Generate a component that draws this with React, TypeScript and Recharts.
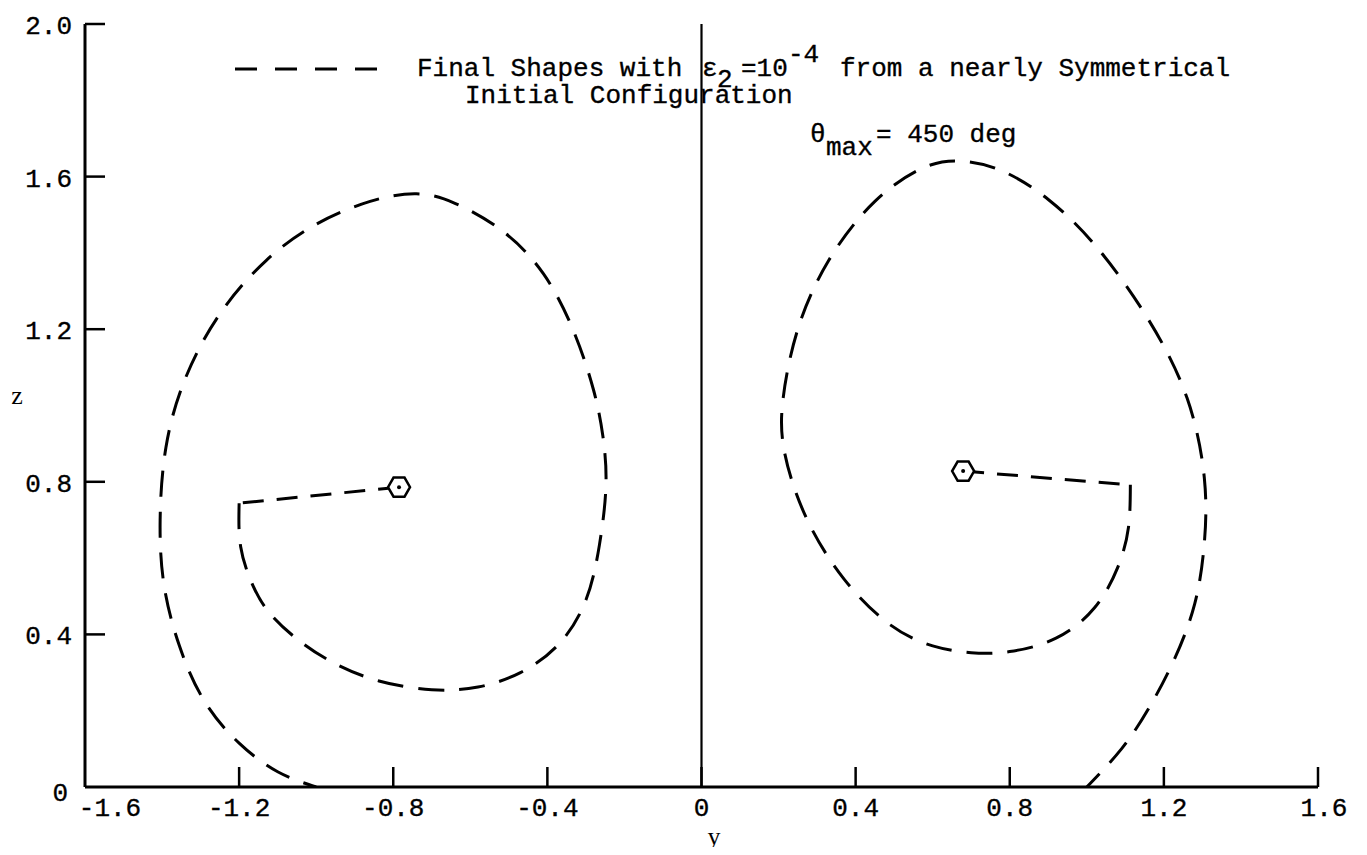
import React from 'react';
import { ComposedChart, Line, Scatter, XAxis, YAxis, ReferenceLine } from 'recharts';

// tick values
const xTicks = [-1.6, -1.2, -0.8, -0.4, 0, 0.4, 0.8, 1.2, 1.6];
const yTicks = [0, 0.4, 0.8, 1.2, 1.6, 2.0];
const xTickLabels = ['-1.6', '-1.2', '-0.8', '-0.4', '0', '0.4', '0.8', '1.2', '1.6'];
const yTickLabels = ['0', '0.4', '0.8', '1.2', '1.6', '2.0'];

// left shape: radial segment from hub to corner, then spiral
const leftRadial = [
  { y: -0.785, z: 0.786 },
  { y: -1.2, z: 0.744 },
];
const leftSpiral = [
  { y: -1.2, z: 0.744 },
  { y: -1.196, z: 0.63 },
  { y: -1.165, z: 0.53 },
  { y: -1.12, z: 0.455 },
  { y: -1.046, z: 0.385 },
  { y: -0.954, z: 0.325 },
  { y: -0.837, z: 0.278 },
  { y: -0.7, z: 0.255 },
  { y: -0.58, z: 0.262 },
  { y: -0.47, z: 0.3 },
  { y: -0.37, z: 0.375 },
  { y: -0.3, z: 0.49 },
  { y: -0.265, z: 0.634 },
  { y: -0.248, z: 0.79 },
  { y: -0.256, z: 0.92 },
  { y: -0.28, z: 1.04 },
  { y: -0.33, z: 1.19 },
  { y: -0.41, z: 1.345 },
  { y: -0.52, z: 1.46 },
  { y: -0.64, z: 1.53 },
  { y: -0.74, z: 1.555 },
  { y: -0.86, z: 1.535 },
  { y: -1.0, z: 1.475 },
  { y: -1.13, z: 1.38 },
  { y: -1.25, z: 1.24 },
  { y: -1.34, z: 1.07 },
  { y: -1.39, z: 0.89 },
  { y: -1.405, z: 0.7 },
  { y: -1.395, z: 0.53 },
  { y: -1.355, z: 0.37 },
  { y: -1.29, z: 0.225 },
  { y: -1.2, z: 0.115 },
  { y: -1.1, z: 0.04 },
  { y: -1.0, z: 0.0 },
];

// right shape
const rightRadial = [
  { y: 0.679, z: 0.828 },
  { y: 1.113, z: 0.792 },
];
const rightSpiral = [
  { y: 1.113, z: 0.792 },
  { y: 1.108, z: 0.68 },
  { y: 1.08, z: 0.575 },
  { y: 1.02, z: 0.47 },
  { y: 0.92, z: 0.39 },
  { y: 0.8, z: 0.355 },
  { y: 0.7, z: 0.352 },
  { y: 0.6, z: 0.37 },
  { y: 0.49, z: 0.425 },
  { y: 0.37, z: 0.545 },
  { y: 0.27, z: 0.71 },
  { y: 0.215, z: 0.88 },
  { y: 0.212, z: 1.02 },
  { y: 0.25, z: 1.2 },
  { y: 0.33, z: 1.38 },
  { y: 0.45, z: 1.535 },
  { y: 0.58, z: 1.625 },
  { y: 0.68, z: 1.64 },
  { y: 0.78, z: 1.615 },
  { y: 0.9, z: 1.54 },
  { y: 1.03, z: 1.41 },
  { y: 1.16, z: 1.225 },
  { y: 1.26, z: 1.02 },
  { y: 1.305, z: 0.81 },
  { y: 1.305, z: 0.64 },
  { y: 1.28, z: 0.48 },
  { y: 1.225, z: 0.33 },
  { y: 1.16, z: 0.205 },
  { y: 1.09, z: 0.1 },
  { y: 1.0, z: 0.0 },
];

// hubs
const hubs = [
  { y: -0.785, z: 0.786 },
  { y: 0.679, z: 0.828 },
];

const MONO = '"Liberation Mono", "DejaVu Sans Mono", monospace';
const SERIF = '"Liberation Serif", "DejaVu Serif", serif';
const DASH = '26 15';
const SW = 3;
const TXT = { fontFamily: MONO, fontSize: 26, fill: '#000', stroke: '#000', strokeWidth: 0.35 };

const XTick = (props: any) => {
  const { x, y, payload } = props;
  const v = payload.value;
  const i = xTicks.indexOf(v);
  const label = i >= 0 ? xTickLabels[i] : String(v);
  const off = v === -1.6 ? 25 : v === 1.6 ? 6 : 0;
  return (
    <g>
      {v !== -1.6 && <line x1={x} y1={y} x2={x} y2={y - 20} stroke="#000" strokeWidth={2.5} />}
      <text x={x + off} y={y + 29} textAnchor="middle" {...TXT}>
        {label}
      </text>
    </g>
  );
};

const YTick = (props: any) => {
  const { x, y, payload } = props;
  const v = payload.value;
  const i = yTicks.indexOf(v);
  const label = i >= 0 ? yTickLabels[i] : String(v);
  if (v === 0) {
    return (
      <text x={x - 17} y={y + 14} textAnchor="end" {...TXT}>
        {label}
      </text>
    );
  }
  return (
    <g>
      <line x1={x} y1={y} x2={x + 20} y2={y} stroke="#000" strokeWidth={2.5} />
      <text x={x - 13} y={y + 10} textAnchor="end" {...TXT}>
        {label}
      </text>
    </g>
  );
};

const Hub = (props: any) => {
  const { cx, cy } = props;
  const r = 11;
  const pts = Array.from({ length: 6 }, (_, k) => {
    const a = (Math.PI / 3) * k;
    return `${cx + r * Math.cos(a)},${cy + r * Math.sin(a)}`;
  }).join(' ');
  return (
    <g>
      <polygon points={pts} fill="#fff" stroke="#000" strokeWidth={2.5} />
      <circle cx={cx} cy={cy} r={2} fill="#000" />
    </g>
  );
};

export default function App() {
  return (
    <div style={{ position: 'relative', width: 1351, height: 839 }}>
      <ComposedChart
        width={1351}
        height={839}
        margin={{ top: 16, right: 41, bottom: 0, left: 0 }}
      >
        <XAxis
          type="number"
          dataKey="y"
          domain={[-1.6, 1.6]}
          ticks={xTicks}
          allowDataOverflow
          height={60}
          tickSize={0}
          tickMargin={0}
          tickLine={false}
          axisLine={{ stroke: '#000', strokeWidth: 3 }}
          tick={<XTick />}
          interval={0}
        />
        <YAxis
          type="number"
          dataKey="z"
          domain={[0, 2]}
          ticks={yTicks}
          allowDataOverflow
          width={77}
          tickSize={0}
          tickMargin={0}
          tickLine={false}
          axisLine={{ stroke: '#000', strokeWidth: 3 }}
          tick={<YTick />}
          interval={0}
        />
        <ReferenceLine x={0} stroke="#000" strokeWidth={2.2} />
        <Line data={leftRadial} dataKey="z" type="linear" stroke="#000" strokeWidth={SW} strokeDasharray="21 13" dot={false} isAnimationActive={false} />
        <Line data={leftSpiral} dataKey="z" type="natural" stroke="#000" strokeWidth={SW} strokeDasharray={DASH} dot={false} isAnimationActive={false} />
        <Line data={rightRadial} dataKey="z" type="linear" stroke="#000" strokeWidth={SW} strokeDasharray="21 13" dot={false} isAnimationActive={false} />
        <Line data={rightSpiral} dataKey="z" type="natural" stroke="#000" strokeWidth={SW} strokeDasharray={DASH} dot={false} isAnimationActive={false} />
        <Scatter data={hubs} dataKey="z" shape={<Hub />} isAnimationActive={false} />
      </ComposedChart>
      <svg
        width={1351}
        height={847}
        style={{ position: 'absolute', left: 0, top: 0, overflow: 'visible', pointerEvents: 'none' }}
      >
        <g transform="translate(-8,-8)" fill="#000">
          <line x1={235} y1={69} x2={380} y2={69} stroke="#000" strokeWidth={3} strokeDasharray="22 18" />
          <text {...TXT} y={76}>
            <tspan x={417}>Final Shapes with</tspan>
            <tspan x={702}>ε</tspan>
            <tspan x={717} dy={11}>2</tspan>
            <tspan x={741} dy={-11}>=10</tspan>
            <tspan x={788} dy={-14}>-4</tspan>
            <tspan x={840} dy={14}>from a nearly Symmetrical</tspan>
          </text>
          <text {...TXT} x={465} y={103}>Initial Configuration</text>
          <text {...TXT} y={142}>
            <tspan x={810}>θ</tspan>
            <tspan x={826} dy={13}>max</tspan>
            <tspan x={876} dy={-13}>= 450 deg</tspan>
          </text>
          <text fontFamily={SERIF} fontSize={26} x={17} y={404} textAnchor="middle">z</text>
          <text fontFamily={SERIF} fontSize={26} x={714} y={845} textAnchor="middle">y</text>
        </g>
      </svg>
    </div>
  );
}
